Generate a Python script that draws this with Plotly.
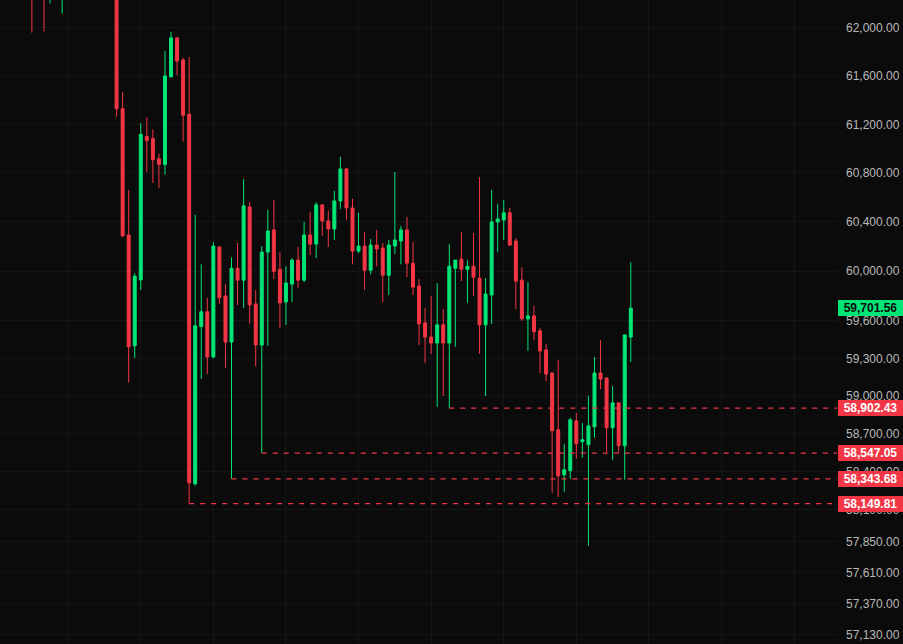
import math
import plotly.graph_objects as go

# candle index (5-min bars), relative to the first large red bar
idx = list(range(-14, 86))

opens = [62650, 62480, 62700, 62450, 62700, 62560, 62880, 62950, 62850, 62900, 62760, 62850, 62800, 62700,
         62650, 61329, 60294, 59400, 59930, 61100, 61083, 60917, 60870, 61594, 61917, 61733, 61283, 58305,
         59554, 59673, 59311, 60196, 59800, 59430, 60024, 59928, 60522, 59736, 59407, 60155, 60335, 60016,
         59752, 59896, 60090, 59928, 60294, 60220, 60539, 60408, 60343, 60571, 60833, 60514, 60163, 60204,
         60008, 60212, 60188, 59968, 60204, 60245, 60335, 60065, 59880, 59584, 59470, 59422, 59568, 59422,
         60024, 60098, 60016, 60040, 59944, 59568, 59808, 60400, 60416, 60474, 60245, 59928, 59616, 59640,
         59520, 59367, 59182, 58732, 58376, 58408, 58802, 58637, 58613, 58755, 59182, 59142, 58747, 58945,
         58605, 59470]
highs = [62780, 62700, 62850, 62800, 62900, 62950, 63100, 63150, 63000, 63050, 62950, 63000, 62950, 62850,
         62760, 61469, 60661, 59984, 61208, 61258, 61158, 60958, 61808, 61967, 61925, 61750, 61758, 60457,
         60056, 59784, 60237, 60200, 59896, 60112, 60228, 60750, 60563, 59848, 60204, 60498, 60580, 60155,
         60040, 60106, 60196, 60400, 60482, 60563, 60545, 60490, 60653, 60932, 60841, 60588, 60474, 60318,
         60261, 60335, 60228, 60253, 60808, 60367, 60441, 60237, 59936, 59704, 59800, 59904, 59696, 60220,
         60090, 60318, 60090, 60310, 60767, 59944, 60661, 60547, 60580, 60514, 60269, 60032, 59912, 59720,
         59544, 59414, 59190, 59284, 58621, 58826, 58865, 58786, 59000, 59311, 59446, 59150, 59079, 58950,
         59490, 60073]
lows = [61960, 62350, 61970, 62205, 62500, 62120, 62700, 62800, 62650, 62700, 62600, 62700, 62600, 62550,
        61263, 60280, 59105, 59303, 59850, 60808, 60718, 60677, 60786, 61585, 61608, 61058, 58149.81, 58290,
        59136, 59176, 59300, 59738, 59224, 58343.68, 59728, 59704, 59576, 59237, 58547.05, 59399, 59936, 59544,
        59568, 59752, 59864, 59912, 60131, 60106, 60286, 60196, 60253, 60506, 60416, 60056, 60147, 59848,
        59976, 60040, 59752, 59808, 60139, 60056, 59952, 59808, 59407, 59261, 59335, 58913, 59000, 58902.43,
        59391, 59920, 59744, 59800, 59335, 59000, 59576, 60155, 60253, 60204, 59696, 59600, 59359, 59446,
        59182, 59118, 58234, 58203, 58242, 58345, 58502, 58510, 57820, 58668, 59055, 58555, 58494, 58550,
        58337, 59270]
closes = [62480, 62620, 62520, 62700, 62580, 62880, 62950, 62850, 62900, 62760, 62850, 62800, 62700, 62650,
          61329, 60286, 59392, 59960, 61117, 61067, 60908, 60870, 61600, 61917, 61725, 61275, 58313, 59560,
          59673, 59311, 60204, 59786, 59430, 60024, 59928, 60531, 59728, 59407, 60155, 60326, 60000, 59744,
          59904, 60090, 59928, 60294, 60220, 60539, 60408, 60343, 60571, 60833, 60514, 60163, 60204, 60008,
          60212, 60180, 59968, 60212, 60253, 60335, 60065, 59872, 59576, 59470, 59422, 59568, 59422, 60040,
          60090, 60016, 60040, 59952, 59568, 59816, 60400, 60424, 60474, 60212, 59920, 59616, 59640, 59512,
          59359, 59174, 58724, 58368, 58416, 58810, 58621, 58653, 58763, 59182, 59134, 58747, 58945, 58605,
          59487, 59701.56]

# marked lows (level, bar index where the level was set)
level_values = [58902.43, 58547.05, 58343.68, 58149.81]
level_start = [55, 24, 19, 12]
last_price = 59701.56

tick_values = [62000, 61600, 61200, 60800, 60400, 60000, 59600, 59300, 59000, 58700, 58400, 58100,
               57850, 57610, 57370, 57130]

UP = "#00e676"
DOWN = "#f23645"
BG = "#0b0b0b"
GRID = "#121715"
X_RANGE = [-19.27, 119.09]
Y_RANGE = [57060, 62234]

fig = go.Figure()
fig.add_trace(go.Candlestick(
    x=idx, open=opens, high=highs, low=lows, close=closes,
    increasing=dict(line=dict(color=UP, width=1), fillcolor=UP),
    decreasing=dict(line=dict(color=DOWN, width=1), fillcolor=DOWN),
    whiskerwidth=0, hoverinfo="skip",
))

for lv, st in zip(level_values, level_start):
    fig.add_trace(go.Scatter(
        x=[st, X_RANGE[1]], y=[lv, lv], mode="lines",
        line=dict(color=DOWN, width=1.2, dash="5px,6px"), hoverinfo="skip",
    ))

def tag(value, bg, fg):
    return dict(
        x=1, xref="paper", xanchor="left", xshift=1,
        y=math.log10(value), yref="y", yanchor="middle",
        text=f"<b>{value:,.2f}</b>", showarrow=False,
        font=dict(family="Liberation Sans", size=12, color=fg),
        bgcolor=bg, bordercolor=bg, borderwidth=1, borderpad=1,
        width=61, height=12, align="center",
    )

annotations = [tag(lv, DOWN, "#ffffff") for lv in level_values]
annotations.append(tag(last_price, UP, "#0b0b0b"))

fig.update_layout(
    width=903, height=644,
    margin=dict(l=0, r=66, t=0, b=0),
    paper_bgcolor=BG, plot_bgcolor=BG,
    showlegend=False, hovermode=False,
    boxgap=0.3,
    annotations=annotations,
    xaxis=dict(
        range=X_RANGE, rangeslider=dict(visible=False),
        showticklabels=False, zeroline=False, showline=False,
        showgrid=True, gridcolor=GRID, gridwidth=1,
        tick0=-8, dtick=12, ticks="",
    ),
    yaxis=dict(
        type="log", side="right",
        range=[math.log10(Y_RANGE[0]), math.log10(Y_RANGE[1])],
        tickvals=tick_values, ticktext=[f"{v:,.2f}" for v in tick_values],
        tickfont=dict(family="Liberation Sans", size=12, color="#b8b8b8"),
        showgrid=True, gridcolor=GRID, gridwidth=1,
        zeroline=False, showline=False, ticks="", ticklabelstandoff=8,
    ),
)

fig.write_html("out.html")
